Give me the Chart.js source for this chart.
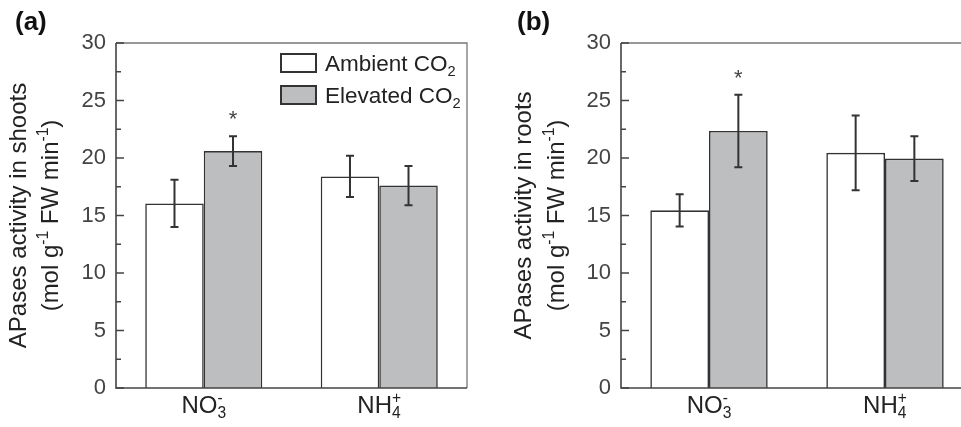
<!DOCTYPE html>
<html lang="en">
<head>
    <meta charset="UTF-8">
    <title>APases activity</title>
    <style>
        body {
            margin: 0;
            background: #fff;
            overflow: hidden;
            width: 961px;
            height: 427px;
            position: relative;
        }
        canvas {
            position: absolute;
            top: 0;
        }
        #shootsChart { left: 0; }
        #rootsChart { left: 480px; }
    </style>
    <script src="https://cdn.jsdelivr.net/npm/chart.js"></script>
</head>
<body>
    <canvas id="shootsChart" width="480" height="427"></canvas>
    <canvas id="rootsChart" width="500" height="427"></canvas>

    <script>
        // categories and series
        const categories = ['NO3-', 'NH4+'];
        const categoryRich = [
            [['NO', ''], ['3', 'sub'], ['-', 'sup']],
            [['NH', ''], ['4', 'sub'], ['+', 'sup']]
        ];
        const seriesNames = ['Ambient CO2', 'Elevated CO2'];
        const seriesRich = [
            [['Ambient CO', ''], ['2', 'sub']],
            [['Elevated CO', ''], ['2', 'sub']]
        ];

        // (a) shoots
        const shootsAmbient = [16.05, 18.4];
        const shootsAmbientErr = [2.05, 1.8];
        const shootsAmbientStar = ['', ''];
        const shootsElevated = [20.6, 17.6];
        const shootsElevatedErr = [1.3, 1.7];
        const shootsElevatedStar = ['*', ''];

        // (b) roots
        const rootsAmbient = [15.45, 20.45];
        const rootsAmbientErr = [1.4, 3.25];
        const rootsAmbientStar = ['', ''];
        const rootsElevated = [22.35, 19.95];
        const rootsElevatedErr = [3.15, 1.95];
        const rootsElevatedStar = ['*', ''];

        // y axis
        const yMin = 0;
        const yMax = 30;
        const yStep = 5;

        const FONT = '"Liberation Sans", Arial, Helvetica, sans-serif';
        const DARK = '#333';
        const GRAY_FILL = '#bdbec0';

        // draw text made of normal / sub / sup pieces (sup right after sub is stacked)
        function richWidth(ctx, parts, size) {
            let w = 0, lastSubW = 0;
            parts.forEach(([t, kind], i) => {
                const s = kind ? size * 0.65 : size;
                ctx.font = s + 'px ' + FONT;
                const tw = ctx.measureText(t).width;
                if (kind === 'sup' && i > 0 && parts[i - 1][1] === 'sub') {
                    w += Math.max(0, tw - lastSubW);
                } else {
                    w += tw;
                }
                lastSubW = kind === 'sub' ? tw : 0;
            });
            return w;
        }

        function drawRich(ctx, parts, x, y, size) {
            // x = centre, y = baseline
            let cx = x - richWidth(ctx, parts, size) / 2;
            let subStart = 0, lastSubW = 0;
            parts.forEach(([t, kind], i) => {
                const s = kind ? size * 0.65 : size;
                ctx.font = s + 'px ' + FONT;
                const tw = ctx.measureText(t).width;
                let dy = 0;
                if (kind === 'sub') dy = size * 0.22;
                if (kind === 'sup') dy = -size * 0.42;
                if (kind === 'sup' && i > 0 && parts[i - 1][1] === 'sub') {
                    ctx.fillText(t, subStart, y + dy);
                    cx = subStart + Math.max(lastSubW, tw);
                } else {
                    if (kind === 'sub') subStart = cx;
                    ctx.fillText(t, cx, y + dy);
                    cx += tw;
                }
                lastSubW = kind === 'sub' ? tw : 0;
            });
        }

        const decorPlugin = {
            id: 'decor',
            afterDatasetsDraw(chart) {
                const opts = chart.options.plugins.decor;
                const ctx = chart.ctx;
                const ca = chart.chartArea;
                const y = chart.scales.y;
                const x = chart.scales.x;

                ctx.save();
                ctx.textAlign = 'left';
                ctx.textBaseline = 'alphabetic';

                // error bars and stars
                chart.data.datasets.forEach((ds, di) => {
                    const meta = chart.getDatasetMeta(di);
                    meta.data.forEach((bar, i) => {
                        const v = ds.data[i];
                        const e = ds.errors[i];
                        const top = y.getPixelForValue(v + e);
                        const bot = y.getPixelForValue(v - e);
                        ctx.strokeStyle = DARK;
                        ctx.lineWidth = 2;
                        ctx.beginPath();
                        ctx.moveTo(bar.x, top); ctx.lineTo(bar.x, bot);
                        ctx.moveTo(bar.x - 4, top); ctx.lineTo(bar.x + 4, top);
                        ctx.moveTo(bar.x - 4, bot); ctx.lineTo(bar.x + 4, bot);
                        ctx.stroke();
                        if (ds.stars[i]) {
                            ctx.fillStyle = '#444';
                            ctx.font = '22px ' + FONT;
                            ctx.textAlign = 'center';
                            ctx.fillText(ds.stars[i], bar.x, top - 20 + 10);
                            ctx.textAlign = 'left';
                        }
                    });
                });

                // frame
                ctx.lineWidth = 1.3;
                ctx.strokeStyle = '#777';
                ctx.beginPath();
                ctx.moveTo(ca.left, ca.top); ctx.lineTo(ca.right, ca.top);
                ctx.lineTo(ca.right, ca.bottom);
                ctx.stroke();
                ctx.lineWidth = 1.6;
                ctx.strokeStyle = '#444';
                ctx.beginPath();
                ctx.moveTo(ca.left, ca.top); ctx.lineTo(ca.left, ca.bottom);
                ctx.lineTo(ca.right, ca.bottom);
                ctx.stroke();

                // inward y ticks, major and minor
                ctx.lineWidth = 1.3;
                ctx.beginPath();
                for (let v = yMin; v <= yMax; v += yStep / 2) {
                    const py = y.getPixelForValue(v);
                    const len = (v % yStep === 0) ? 8 : 5;
                    ctx.moveTo(ca.left, py); ctx.lineTo(ca.left + len, py);
                }
                ctx.stroke();

                // x category labels
                ctx.fillStyle = '#222';
                categoryRich.forEach((parts, i) => {
                    drawRich(ctx, parts, x.getPixelForValue(i), 413, 24);
                });

                // y title (two rotated lines)
                ctx.fillStyle = '#222';
                const cy = (ca.top + ca.bottom) / 2;
                opts.title.forEach((parts, li) => {
                    ctx.save();
                    ctx.translate(ca.left - opts.titleOffsets[li], cy);
                    ctx.rotate(-Math.PI / 2);
                    drawRich(ctx, parts, 0, 0, 24);
                    ctx.restore();
                });

                // panel label
                ctx.font = 'bold 26px ' + FONT;
                ctx.fillStyle = '#111';
                ctx.textAlign = 'left';
                ctx.fillText(opts.panel, opts.panelX, 30);

                // legend
                if (opts.legend) {
                    chart.data.datasets.forEach((ds, di) => {
                        const bx = ca.right - 186;
                        const by = ca.top + 11 + di * 32;
                        ctx.fillStyle = ds.backgroundColor;
                        ctx.fillRect(bx, by, 35, 18);
                        ctx.strokeStyle = DARK;
                        ctx.lineWidth = 2;
                        ctx.strokeRect(bx, by, 35, 18);
                        ctx.fillStyle = '#222';
                        const parts = seriesRich[di];
                        const w = richWidth(ctx, parts, 22.5);
                        drawRich(ctx, parts, bx + 44 + w / 2, by + 17, 22.5);
                    });
                }
                ctx.restore();
            }
        };

        function makeChart(id, ambient, ambientErr, ambientStar, elevated, elevatedErr, elevatedStar, opts) {
            const ctx = document.getElementById(id).getContext('2d');
            return new Chart(ctx, {
                type: 'bar',
                data: {
                    labels: categories,
                    datasets: [{
                        label: seriesNames[0],
                        data: ambient,
                        errors: ambientErr,
                        stars: ambientStar,
                        backgroundColor: '#ffffff',
                        borderColor: DARK,
                        borderWidth: 1.6,
                        categoryPercentage: 0.667,
                        barPercentage: 1.0
                    }, {
                        label: seriesNames[1],
                        data: elevated,
                        errors: elevatedErr,
                        stars: elevatedStar,
                        backgroundColor: GRAY_FILL,
                        borderColor: DARK,
                        borderWidth: 1.6,
                        categoryPercentage: 0.667,
                        barPercentage: 1.0
                    }]
                },
                options: {
                    responsive: false,
                    animation: false,
                    events: [],
                    layout: {
                        padding: { left: 0, top: 43, right: opts.padRight, bottom: 0 }
                    },
                    scales: {
                        x: {
                            grid: { display: false, drawTicks: false },
                            border: { display: false },
                            ticks: { display: false },
                            afterFit(scale) { scale.height = 39; }
                        },
                        y: {
                            min: yMin,
                            max: yMax,
                            grid: { display: false, drawTicks: false, tickLength: 0 },
                            border: { display: false },
                            ticks: {
                                stepSize: yStep,
                                padding: 10,
                                color: '#444',
                                font: { family: FONT, size: 22 }
                            },
                            afterFit(scale) { scale.width = opts.yWidth; }
                        }
                    },
                    plugins: {
                        legend: { display: false },
                        tooltip: { enabled: false },
                        decor: opts
                    }
                },
                plugins: [decorPlugin]
            });
        }

        makeChart('shootsChart', shootsAmbient, shootsAmbientErr, shootsAmbientStar,
            shootsElevated, shootsElevatedErr, shootsElevatedStar, {
                yWidth: 116,
                padRight: 13,
                panel: '(a)',
                panelX: 15,
                legend: true,
                titleOffsets: [90, 58],
                title: [
                    [['APases activity in shoots', '']],
                    [['(mol g', ''], ['-1', 'sup'], [' FW min', ''], ['-1', 'sup'], [')', '']]
                ]
            });

        makeChart('rootsChart', rootsAmbient, rootsAmbientErr, rootsAmbientStar,
            rootsElevated, rootsElevatedErr, rootsElevatedStar, {
                yWidth: 141,
                padRight: 7,
                panel: '(b)',
                panelX: 37,
                legend: false,
                titleOffsets: [90, 57],
                title: [
                    [['APases activity in roots', '']],
                    [['(mol g', ''], ['-1', 'sup'], [' FW min', ''], ['-1', 'sup'], [')', '']]
                ]
            });
    </script>
</body>
</html>
